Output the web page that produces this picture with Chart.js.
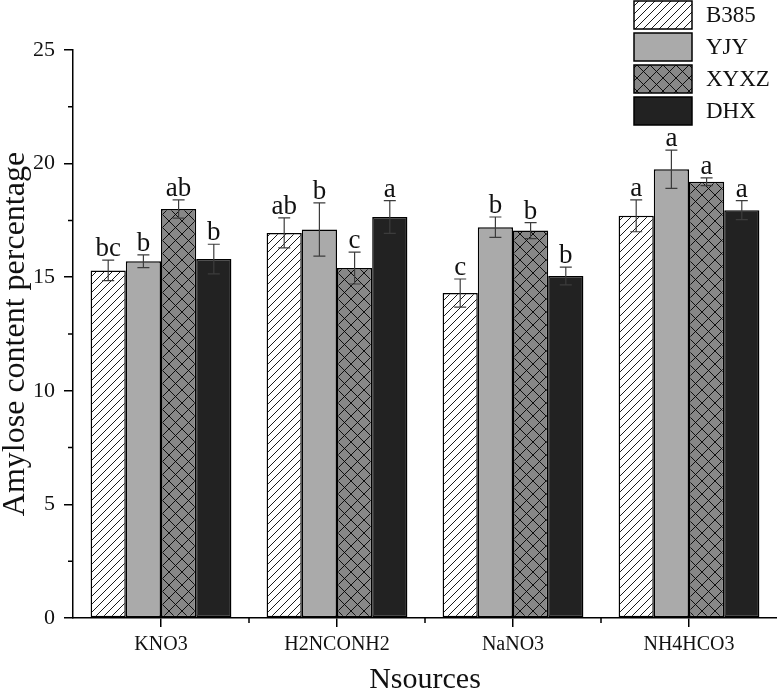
<!DOCTYPE html>
<html>
<head>
<meta charset="utf-8">
<script src="https://cdn.jsdelivr.net/npm/chart.js@4.4.0/dist/chart.umd.min.js"></script>
<style>
  html, body { margin: 0; padding: 0; background: #fff; }
  canvas { display: block; }
</style>
</head>
<body>
<canvas id="chart1" width="777" height="695"></canvas>
<script>
// data
const categories = ["KNO3", "H2NCONH2", "NaNO3", "NH4HCO3"];
const seriesNames = ["B385", "YJY", "XYXZ", "DHX"];

const b385 = [15.3, 16.95, 14.3, 17.7];
const yjy = [15.7, 17.1, 17.2, 19.75];
const xyxz = [18.0, 15.4, 17.05, 19.2];
const dhx = [15.8, 17.65, 15.05, 17.95];

const b385Err = [0.45, 0.66, 0.62, 0.7];
const yjyErr = [0.28, 1.17, 0.45, 0.84];
const xyxzErr = [0.4, 0.7, 0.35, 0.17];
const dhxErr = [0.65, 0.72, 0.39, 0.42];

const b385Sig = ["bc", "ab", "c", "a"];
const yjySig = ["b", "b", "b", "a"];
const xyxzSig = ["ab", "c", "b", "a"];
const dhxSig = ["b", "a", "b", "a"];

const yMin = 0, yMax = 25, yStep = 5;

const FONT = "'Liberation Serif', 'Times New Roman', serif";

function makePattern(bg, size, slash, back) {
  const c = document.createElement("canvas");
  c.width = size;
  c.height = size;
  const g = c.getContext("2d");
  g.fillStyle = bg;
  g.fillRect(0, 0, size, size);
  g.strokeStyle = "#000";
  g.lineWidth = 0.9;
  g.beginPath();
  if (slash) {
    g.moveTo(0, size); g.lineTo(size, 0);
    g.moveTo(-2, 2); g.lineTo(2, -2);
    g.moveTo(size - 2, size + 2); g.lineTo(size + 2, size - 2);
  }
  if (back) {
    g.moveTo(0, 0); g.lineTo(size, size);
    g.moveTo(-2, size - 2); g.lineTo(2, size + 2);
    g.moveTo(size - 2, -2); g.lineTo(size + 2, 2);
  }
  g.stroke();
  return g.createPattern(c, "repeat");
}

const ctxMain = document.getElementById("chart1").getContext("2d");
const fills = [
  makePattern("#ffffff", 8, true, false),
  "#aaaaaa",
  makePattern("#878787", 13, true, true),
  "#222222",
];

const values = [b385, yjy, xyxz, dhx];
const errs = [b385Err, yjyErr, xyxzErr, dhxErr];
const sigs = [b385Sig, yjySig, xyxzSig, dhxSig];

const datasets = seriesNames.map((name, i) => ({
  label: name,
  data: values[i],
  errors: errs[i],
  letters: sigs[i],
  backgroundColor: fills[i],
  borderColor: "#000",
  borderWidth: 1.5,
  borderSkipped: false,
  categoryPercentage: 0.8,
  barPercentage: 1.0,
}));

const bgPlugin = {
  id: "bg",
  beforeDraw(chart) {
    const c = chart.ctx;
    c.save();
    c.fillStyle = "#fff";
    c.fillRect(0, 0, chart.width, chart.height);
    c.restore();
  },
};

const errorBars = {
  id: "errorBars",
  afterDatasetsDraw(chart) {
    const c = chart.ctx;
    const ys = chart.scales.y;
    c.save();
    chart.data.datasets.forEach((ds, i) => {
      const meta = chart.getDatasetMeta(i);
      meta.data.forEach((bar, j) => {
        const v = ds.data[j];
        const e = ds.errors[j];
        const top = ys.getPixelForValue(v + e);
        const bot = ys.getPixelForValue(v - e);
        const x = bar.x;
        c.strokeStyle = "#3c3c3c";
        c.lineWidth = 1.2;
        c.beginPath();
        c.moveTo(x, top); c.lineTo(x, bot);
        c.moveTo(x - 6, top); c.lineTo(x + 6, top);
        c.moveTo(x - 6, bot); c.lineTo(x + 6, bot);
        c.stroke();
        c.fillStyle = "#111";
        c.font = "27px " + FONT;
        c.textAlign = "center";
        c.textBaseline = "alphabetic";
        c.fillText(ds.letters[j], x, top - 4);
      });
    });
    c.restore();
  },
};

const minorTicks = {
  id: "minorTicks",
  afterDraw(chart) {
    const c = chart.ctx;
    const xs = chart.scales.x;
    const ys = chart.scales.y;
    const area = chart.chartArea;
    c.save();
    c.strokeStyle = "#000";
    c.lineWidth = 1.5;
    c.beginPath();
    for (let v = yMin + yStep / 2; v < yMax; v += yStep) {
      const p = ys.getPixelForValue(v);
      c.moveTo(area.left - 5, p); c.lineTo(area.left, p);
    }
    for (let i = 0; i < categories.length - 1; i++) {
      const p = (xs.getPixelForValue(i) + xs.getPixelForValue(i + 1)) / 2;
      c.moveTo(p, area.bottom); c.lineTo(p, area.bottom + 5);
    }
    c.stroke();
    c.restore();
  },
};

const boxLegend = {
  id: "boxLegend",
  afterDraw(chart) {
    const c = chart.ctx;
    c.save();
    const x0 = 634, w = 58, h = 28, gap = 32, y0 = 1;
    chart.data.datasets.forEach((ds, i) => {
      const y = y0 + i * gap;
      c.fillStyle = ds.backgroundColor;
      c.fillRect(x0, y, w, h);
      c.strokeStyle = "#000";
      c.lineWidth = 1.5;
      c.strokeRect(x0, y, w, h);
      c.fillStyle = "#111";
      c.font = "23px " + FONT;
      c.textAlign = "left";
      c.textBaseline = "middle";
      c.fillText(ds.label, 706, y + h / 2 + 1);
    });
    c.restore();
  },
};

new Chart(ctxMain, {
  type: "bar",
  data: { labels: categories, datasets: datasets },
  options: {
    responsive: false,
    animation: false,
    layout: { padding: { top: 50, right: 0, left: 0, bottom: 0 } },
    plugins: {
      legend: { display: false },
      tooltip: { enabled: false },
    },
    scales: {
      x: {
        grid: {
          display: true,
          drawOnChartArea: false,
          offset: false,
          tickLength: 9,
          color: "#000",
          lineWidth: 1.5,
        },
        border: { display: true, color: "#000", width: 1.5 },
        ticks: {
          color: "#111",
          font: { family: FONT, size: 20 },
          padding: 6,
          maxRotation: 0,
        },
        title: {
          display: true,
          text: "Nsources",
          color: "#111",
          font: { family: FONT, size: 30, lineHeight: 1.0 },
          padding: { top: 0, bottom: 0 },
        },
        afterFit(scale) { scale.height = 77; },
      },
      y: {
        min: yMin,
        max: yMax,
        grid: {
          display: true,
          drawOnChartArea: false,
          tickLength: 9,
          color: "#000",
          lineWidth: 1.5,
        },
        border: { display: true, color: "#000", width: 1.5 },
        ticks: {
          stepSize: yStep,
          color: "#111",
          font: { family: FONT, size: 22 },
          padding: 9,
        },
        title: {
          display: true,
          text: "Amylose content percentage",
          color: "#111",
          font: { family: FONT, size: 32, lineHeight: 1.0 },
          padding: { top: 0, bottom: 0 },
        },
        afterFit(scale) { scale.width = 73; },
      },
    },
  },
  plugins: [bgPlugin, errorBars, minorTicks, boxLegend],
});
</script>
</body>
</html>
